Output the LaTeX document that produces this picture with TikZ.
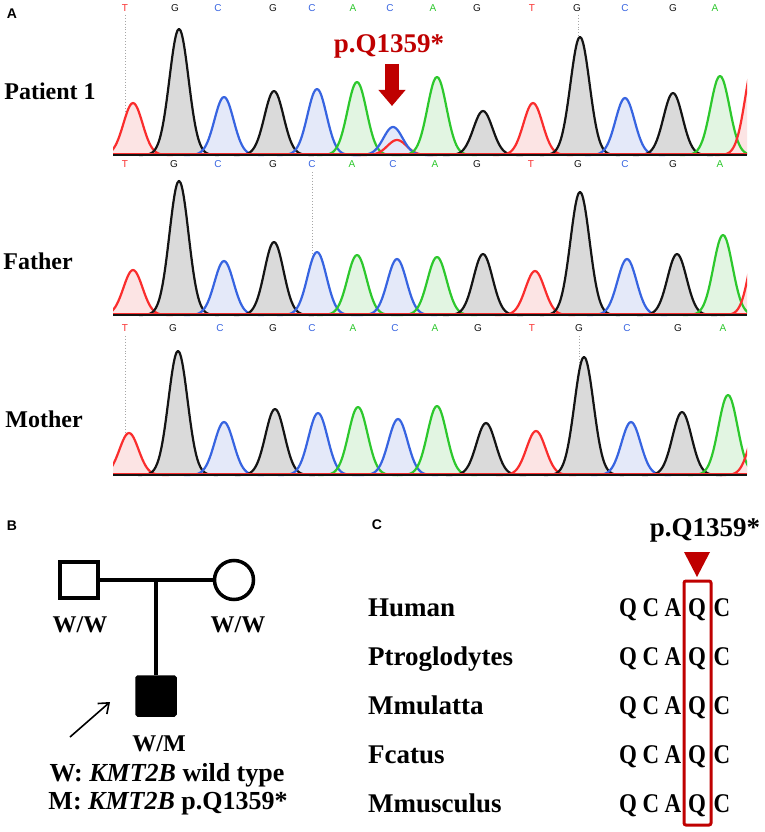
\documentclass[tikz,border=0pt]{standalone}
\usepackage{xcolor}
\usepackage{fontspec}
\setmainfont{Liberation Serif}
\newfontfamily\arialfont{Liberation Sans}
\usetikzlibrary{arrows.meta,positioning}
\definecolor{mutred}{rgb}{0.75, 0.0, 0.0}
\definecolor{Tline}{RGB}{250,45,45}
\definecolor{Tfill}{RGB}{252,228,228}
\definecolor{Gline}{RGB}{20,20,20}
\definecolor{Gfill}{RGB}{218,218,218}
\definecolor{Cline}{RGB}{55,100,225}
\definecolor{Cfill}{RGB}{228,233,249}
\definecolor{Aline}{RGB}{45,200,45}
\definecolor{Afill}{RGB}{226,245,226}

\newcommand{\chrom}[2]{%
  \foreach \cx/\tp/\b in #1 {\fill[fill=\b fill] plot[domain=-40:40, samples=55, smooth] ({\cx+\x},{#2-(#2-\tp)*exp(-\x*\x/182)});}
  \foreach \cx/\tp/\b in #1 {\draw[pk, draw=\b line] plot[domain=-40:40, samples=55, smooth] ({\cx+\x},{#2-(#2-\tp)*exp(-\x*\x/182)});}
  \draw[line width=1pt, Tline] (113,#2-1.2) -- (747,#2-1.2);
  \draw[line width=1.2pt, Gline] (113,#2) -- (747,#2);
}

\def\pkone{133/103/T,179/29/G,224/97/C,274/91/G,317/89/C,357/82/A,397/140/T,393/127/C,437/77/A,483/111/G,533/103/T,580/37/G,625/98/C,673/93/G,720/76/A,755/58/T}
\def\pktwo{133/270/T,179/181/G,224/261/C,274/242/G,317/252/C,357/255/A,397/259/C,437/257/A,483/254/G,535/271/T,580/192/G,627/259/C,677/254/G,723/235/A,760/228/T}
\def\pkthree{129/433/T,178/351/G,224/422/C,275/409/G,318/413/C,358/407/A,398/419/C,437/406/A,486/423/G,536/431/T,584/357/G,631/422/C,682/412/G,728/395/A,760/417/T}

\begin{document}
\begin{tikzpicture}[x=1pt, y=-1pt,
    pk/.style={line width=2.2pt, line join=round},
    base/.style={font=\arialfont\fontsize{10}{11}\selectfont, inner sep=0pt},
    panel/.style={font=\arialfont\bfseries\fontsize{14}{16}\selectfont, inner sep=0pt},
    who/.style={font=\fontsize{24}{28}\selectfont\bfseries, inner sep=0pt},
    geno/.style={font=\fontsize{24}{28}\selectfont\bfseries, inner sep=0pt},
    spec/.style={font=\fontsize{27}{30}\selectfont\bfseries, anchor=base west, inner sep=0pt},
    aa/.style={font=\fontsize{27}{30}\selectfont\bfseries, anchor=base, inner sep=0pt},
    ped/.style={draw, line width=3.5pt, inner sep=0pt},
    guide/.style={gray!70, dotted, line width=0.9pt}]
    \useasboundingbox (0,0) rectangle (765,832);
    \fill[white] (0,0) rectangle (765,832);

    \node[panel] (pA) at (12,14) {A};
    \node[panel] (pB) at (12,526) {B};
    \node[panel] (pC) at (377,525) {C};

    \foreach \bx/\bl in {125/T,175/G,218/C,273/G,312/C,353/A,390/C,433/A,477/G,532/T,577/G,625/C,673/G,715/A}
        \node[base, text=\bl line] (ra\bx) at (\bx,8) {\bl};
    \foreach \bx/\bl in {125/T,174/G,218/C,273/G,312/C,352/A,393/C,435/A,477/G,531/T,578/G,625/C,673/G,720/A}
        \node[base, text=\bl line] (rb\bx) at (\bx,164) {\bl};
    \foreach \bx/\bl in {125/T,173/G,220/C,273/G,312/C,353/A,395/C,435/A,478/G,532/T,579/G,627/C,678/G,723/A}
        \node[base, text=\bl line] (rc\bx) at (\bx,328) {\bl};

    \draw[guide] (125,15) -- (125,155);
    \draw[guide] (578,15) -- (578,155);
    \draw[guide] (312,172) -- (312,315);
    \draw[guide] (125,336) -- (125,475);
    \draw[guide] (579,336) -- (579,475);

    \begin{scope}
        \clip (113,12) rectangle (747,157);
        \chrom{\pkone}{155}
    \end{scope}
    \begin{scope}
        \clip (113,170) rectangle (747,317);
        \chrom{\pktwo}{315}
    \end{scope}
    \begin{scope}
        \clip (113,334) rectangle (747,477);
        \chrom{\pkthree}{475}
    \end{scope}

    \node[who] (pat) at (50,91) {Patient 1};
    \node[who] (dadA) at (38,261) {Father};
    \node[who] (momA) at (44,419) {Mother};

    \node[font=\fontsize{27}{30}\selectfont\bfseries, text=mutred, inner sep=0pt] (mutA) at (389,46) {p.Q1359*};
    \coordinate (mtop) at (392,64);
    \coordinate (mtip) at (392,106);
    \draw[mutred, line width=14pt, -{Triangle[length=16pt,width=26pt]}] (mtop) -- (mtip);

    \node[ped, minimum width=38pt, minimum height=36pt] (dad) at (79,580) {};
    \node[ped, circle, minimum size=39pt] (mom) at (234,580) {};
    \node[ped, fill=black, minimum size=38pt, rounded corners=1pt] (pt) at (156,696) {};
    \coordinate (mate) at (156,580);
    \draw[line width=3.5pt] (dad) -- (mom);
    \draw[line width=3.5pt] (mate) -- (pt);
    \coordinate (arwt) at (70,737);
    \coordinate (arwh) at (110,702);
    \draw[line width=1.6pt, -{Straight Barb[length=9pt,width=14pt]}] (arwt) -- (arwh);

    \node[geno] (gdad) at (80,625) {W/W};
    \node[geno] (gmom) at (238,625) {W/W};
    \node[geno] (gpt) at (159,744) {W/M};
    \node[font=\fontsize{26}{30}\selectfont\bfseries, inner sep=0pt] (keyw) at (167,775) {W: \textit{KMT2B} wild type};
    \node[font=\fontsize{26}{30}\selectfont\bfseries, inner sep=0pt] (keym) at (168,804) {M: \textit{KMT2B} p.Q1359*};

    \node[font=\fontsize{27}{30}\selectfont\bfseries, inner sep=0pt] (mutC) at (705,530) {p.Q1359*};
    \fill[mutred] (684,552) -- (710,552) -- (697,577) -- cycle;

    \foreach \sp [count=\i from 0] in {Human,Ptroglodytes,Mmulatta,Fcatus,Mmusculus} {
        \node[spec] (sp\i) at (368,616+49*\i) {\sp};
        \foreach \lx/\la in {628/Q,651/C,673/A,697/Q,722/C}
            \node[aa] (aa\i\lx) at (\lx,616+49*\i) {\scalebox{0.85}[1]{\la}};
    }
    \draw[mutred, line width=3pt, rounded corners=2pt] (684,581) rectangle (711,825);
\end{tikzpicture}
\end{document}
